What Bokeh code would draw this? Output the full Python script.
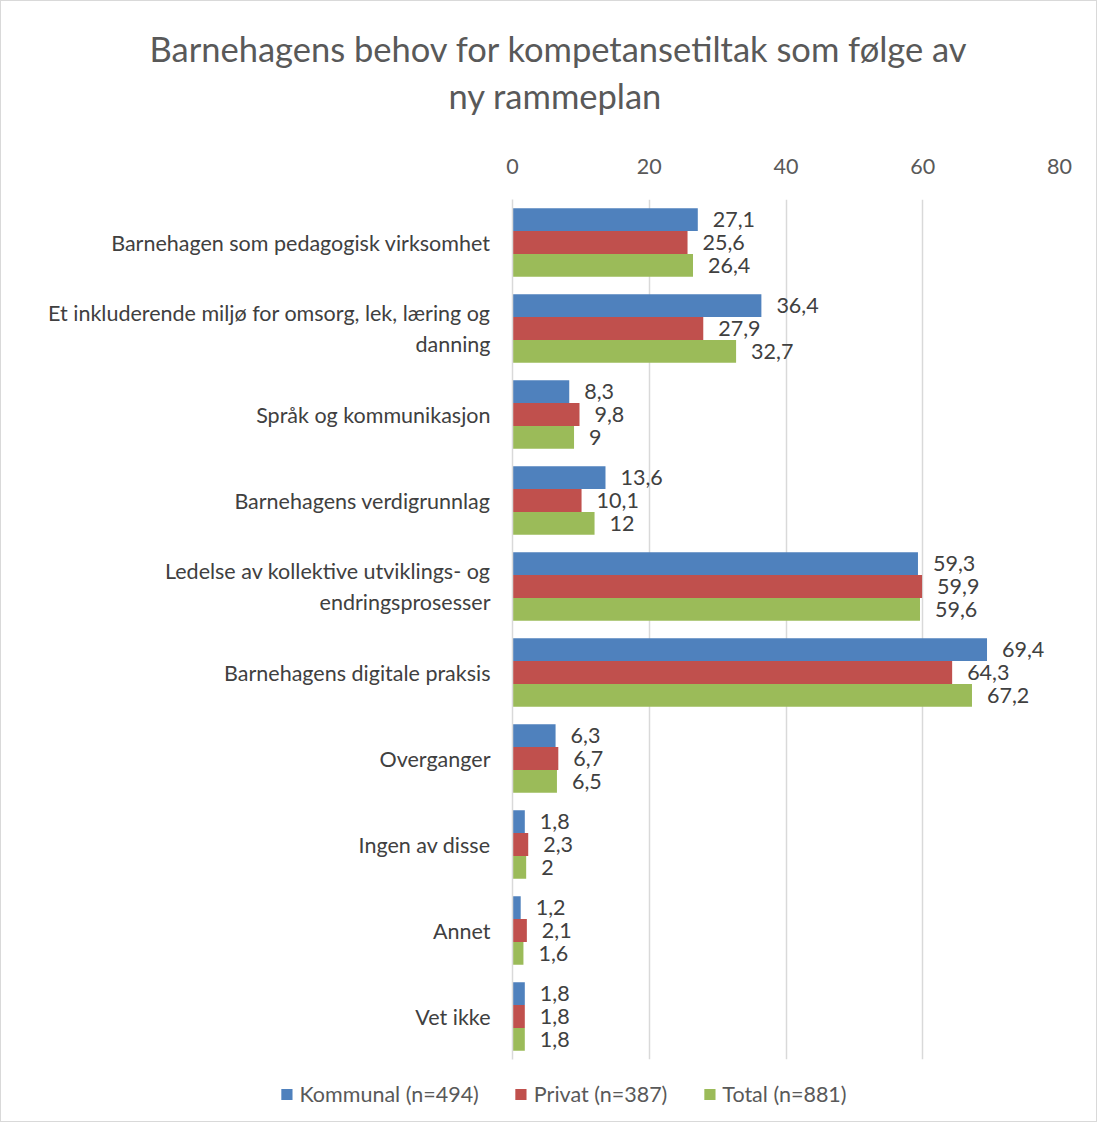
from bokeh.plotting import figure
from bokeh.layouts import column
from bokeh.models import (ColumnDataSource, FactorRange, Range1d, Title, Legend,
                          LegendItem, FixedTicker)
from bokeh.transform import dodge
from bokeh.core.properties import value
from bokeh.embed import file_html
from bokeh.resources import INLINE

categories = [
    "Barnehagen som pedagogisk virksomhet",
    "Et inkluderende miljø for omsorg, lek, læring og\ndanning",
    "Språk og kommunikasjon",
    "Barnehagens verdigrunnlag",
    "Ledelse av kollektive utviklings- og\nendringsprosesser",
    "Barnehagens digitale praksis",
    "Overganger",
    "Ingen av disse",
    "Annet",
    "Vet ikke",
]
kommunal = [27.1, 36.4, 8.3, 13.6, 59.3, 69.4, 6.3, 1.8, 1.2, 1.8]
privat = [25.6, 27.9, 9.8, 10.1, 59.9, 64.3, 6.7, 2.3, 2.1, 1.8]
total = [26.4, 32.7, 9, 12, 59.6, 67.2, 6.5, 2, 1.6, 1.8]
series_names = ["Kommunal (n=494)", "Privat (n=387)", "Total (n=881)"]
x_ticks = [0, 20, 40, 60, 80]
title_lines = ["Barnehagens behov for kompetansetiltak som følge av", "ny rammeplan"]

colors = ["#4F81BD", "#C0504D", "#9BBB59"]
FONT = "Lato"
TXT = "#595959"
LBL = "#404040"


def fmt(v):
    return f"{v:g}".replace(".", ",")


data = dict(cat=categories, kommunal=kommunal, privat=privat, total=total,
            kommunal_lbl=[fmt(v) for v in kommunal],
            privat_lbl=[fmt(v) for v in privat],
            total_lbl=[fmt(v) for v in total])
source = ColumnDataSource(data)

W = 1095
HM = 1066
p = figure(width=W, height=HM, y_range=FactorRange(factors=categories[::-1]),
           x_range=Range1d(0, 80), x_axis_location="above",
           output_backend="svg", toolbar_location=None, title=None,
           min_border_left=511, min_border_right=37,
           min_border_top=198, min_border_bottom=8)
p.frame_align = False
p.background_fill_color = "white"
p.border_fill_color = "white"
p.outline_line_color = None

bar_h = 0.265
offsets = [0.267, 0.0, -0.267]
keys = ["kommunal", "privat", "total"]
for key, off, col in zip(keys, offsets, colors):
    p.hbar(y=dodge("cat", off, range=p.y_range), right=key, left=0,
           height=bar_h, source=source, fill_color=col, line_color=None)
    p.text(x=key, y=dodge("cat", off, range=p.y_range), text=key + "_lbl",
           source=source, x_offset=15, text_align="left", text_baseline="middle",
           text_font=value(FONT), text_font_size="21.5px", text_color=LBL)

xa = p.xaxis[0]
xa.ticker = FixedTicker(ticks=x_ticks)
xa.axis_line_color = None
xa.major_tick_line_color = None
xa.minor_tick_line_color = None
xa.major_label_standoff = 20
xa.major_label_text_font = FONT
xa.major_label_text_font_size = "21.5px"
xa.major_label_text_color = TXT

ya = p.yaxis[0]
ya.axis_line_color = "#d9d9d9"
ya.axis_line_width = 1.5
ya.major_tick_line_color = None
ya.minor_tick_line_color = None
ya.major_tick_out = 0
ya.major_label_standoff = 22
ya.major_label_text_font = FONT
ya.major_label_text_font_size = "21.5px"
ya.major_label_text_color = LBL

p.xgrid.grid_line_color = "#d9d9d9"
p.xgrid.grid_line_width = 1.5
p.ygrid.grid_line_color = None

# spacer between the axis and the two title lines
spacer = Title(text=" ", standoff=24, text_font=FONT, text_font_size="10px",
               text_color="white")
t2 = Title(text=title_lines[1], align="left", offset=-64, standoff=4,
           text_font=FONT, text_font_size="34.5px", text_font_style="normal",
           text_color=TXT)
t1 = Title(text=title_lines[0], align="left", offset=-363, standoff=4,
           text_font=FONT, text_font_size="34.5px", text_font_style="normal",
           text_color=TXT)
p.add_layout(spacer, "above")
p.add_layout(t2, "above")
p.add_layout(t1, "above")

# ---------------- legend strip ----------------
lf = figure(width=W, height=54, output_backend="svg", toolbar_location=None,
            title=None, x_axis_type=None, y_axis_type=None,
            min_border_left=29, min_border_right=0,
            min_border_top=0, min_border_bottom=0)
lf.frame_align = False
lf.outline_line_color = None
lf.grid.visible = False
lf.background_fill_color = "white"
lf.border_fill_color = "white"
proxies = [lf.hbar(y=[0], left=[0], right=[0], height=0.5, fill_color=c,
                   line_color=None)
           for c in colors]
legend = Legend(items=[LegendItem(label=n, renderers=[r]) for n, r in zip(series_names, proxies)],
                orientation="horizontal", location="center",
                glyph_width=14, glyph_height=14, label_standoff=6, spacing=35,
                padding=0, margin=0, border_line_color=None,
                background_fill_alpha=0,
                label_text_font=FONT, label_text_font_size="21.5px",
                label_text_color=TXT)
lf.add_layout(legend, "center")

layout = column(p, lf, spacing=0, styles={"border": "1px solid #d9d9d9"})
open("out.html", "w").write(file_html(layout, INLINE))
